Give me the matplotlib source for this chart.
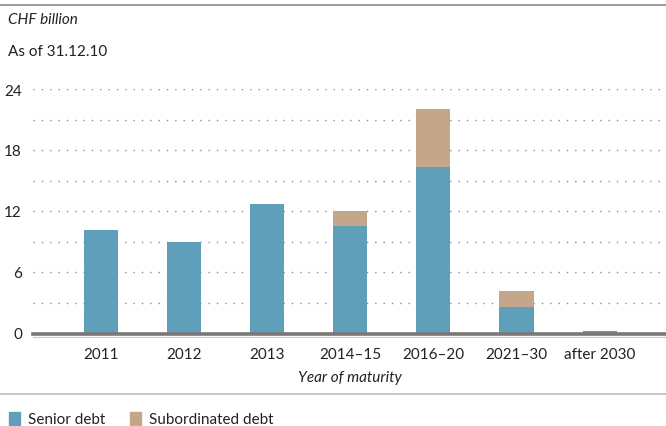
import numpy as np
import matplotlib.pyplot as plt

plt.rcParams['font.family'] = ['Lato', 'DejaVu Sans']

categories = ["2011", "2012", "2013", "2014\u201315", "2016\u201320", "2021\u201330", "after 2030"]
senior = [10.1, 8.95, 12.7, 10.5, 16.3, 2.6, 0.2]
subordinated = [0.0, 0.0, 0.0, 1.5, 5.7, 1.5, 0.0]
yticks = [0, 6, 12, 18, 24]

c_senior = "#5f9fba"
c_sub = "#c4a68a"
grey = "#7a7776"
fs = 11

fig = plt.figure(figsize=(6.66, 4.27), dpi=100)
ax = fig.add_axes([33/666, 1 - 334/427, 1 - 33/666, (334 - 90)/427])

x = np.arange(len(categories))
w = 0.41
ax.bar(x, senior, w, color=c_senior, zorder=3)
ax.bar(x, subordinated, w, bottom=senior, color=c_sub, zorder=3)

# dotted grid every 3
for yv in range(3, 25, 3):
    ax.axhline(yv, color="#8c8c8c", lw=1.0, ls=(0, (1, 5)), zorder=1)
ax.axhline(-0.12, color=grey, lw=2.6, zorder=4, clip_on=False)
ax.axhline(-0.35, color="#c8c8c8", lw=0.8, zorder=4, clip_on=False)

ax.set_xlim(-0.82, 6.8)
ax.set_ylim(0, 24)
ax.set_yticks(yticks)
ax.set_xticks(x)
ax.set_xticklabels(categories)
ax.tick_params(length=0, labelsize=fs, colors="#222222")
ax.tick_params(axis='y', pad=8)
ax.tick_params(axis='x', pad=10)
for s in ax.spines.values():
    s.set_visible(False)

fig.text(350/666, 1 - 378/427, "Year of maturity", style="italic", fontsize=fs,
         ha="center", va="center", color="#222222")
fig.text(8/666, 1 - 20/427, "CHF billion", style="italic", fontsize=fs,
         ha="left", va="center", color="#222222")
fig.text(8/666, 1 - 52/427, "As of 31.12.10", fontsize=fs,
         ha="left", va="center", color="#222222")

# separator lines
fig.add_artist(plt.Line2D([0, 1], [1 - 6/427, 1 - 6/427], color="#8a8a8a", lw=1.2))
fig.add_artist(plt.Line2D([0, 1], [1 - 395/427, 1 - 395/427], color="#bdbdbd", lw=1.2))

# legend
fig.add_artist(plt.Rectangle((9/666, 1 - 426/427), 11/666, 13/427, color=c_senior))
fig.text(28/666, 1 - 420/427, "Senior debt", fontsize=fs, ha="left", va="center", color="#222222")
fig.add_artist(plt.Rectangle((130/666, 1 - 426/427), 11/666, 13/427, color=c_sub))
fig.text(149/666, 1 - 420/427, "Subordinated debt", fontsize=fs, ha="left", va="center", color="#222222")

fig.savefig("out.png", dpi=100)
